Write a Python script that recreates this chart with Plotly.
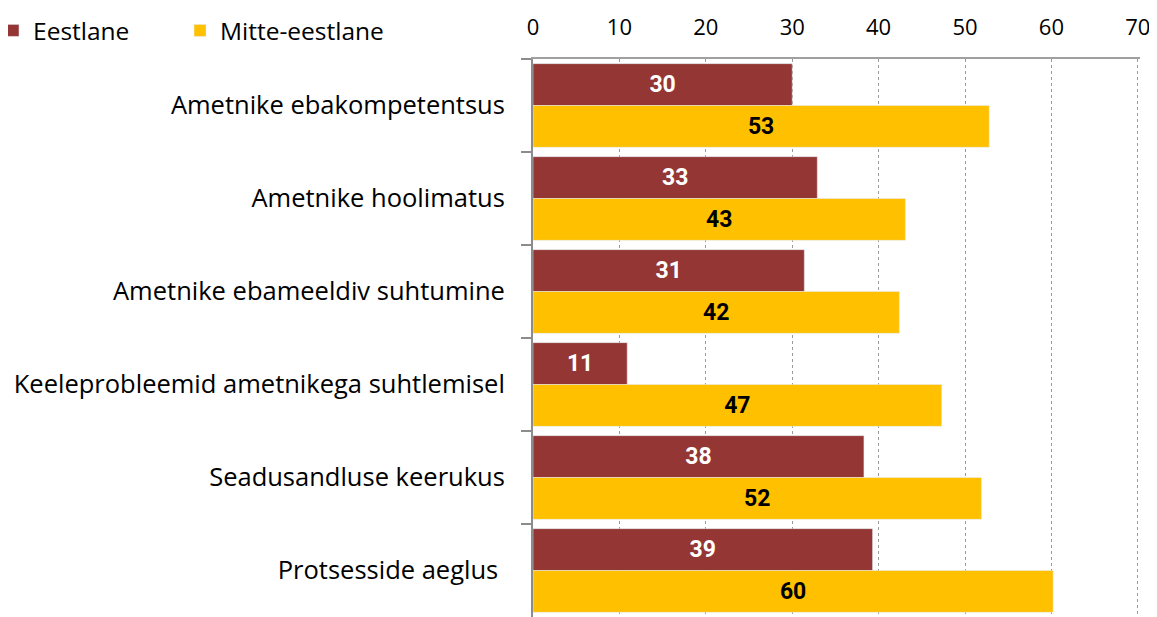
import plotly.graph_objects as go

categories = [
    "Ametnike ebakompetentsus",
    "Ametnike hoolimatus",
    "Ametnike ebameeldiv suhtumine",
    "Keeleprobleemid ametnikega suhtlemisel",
    "Seadusandluse keerukus",
    "Protsesside aeglus\u00a0",
]
eestlane = [30.0, 32.9, 31.4, 10.9, 38.3, 39.3]
mitte_eestlane = [52.8, 43.1, 42.4, 47.3, 51.9, 60.2]
x_ticks = [0, 10, 20, 30, 40, 50, 60, 70]

RED = "#943634"
YELLOW = "#FFC000"
LABEL_FONT = "Liberation Sans Narrow, Arial Narrow, Roboto, sans-serif"
TEXT_FONT = "Open Sans, Noto Sans, sans-serif"

fig = go.Figure()

fig.add_trace(go.Bar(
    y=categories,
    x=eestlane,
    name="Eestlane",
    orientation="h",
    marker=dict(color=RED),
    text=eestlane,
    texttemplate="<b>%{x:.0f}</b>",
    textposition="inside",
    insidetextanchor="middle",
    textfont=dict(color="white", size=23, family=LABEL_FONT),
    legend="legend",
))

fig.add_trace(go.Bar(
    y=categories,
    x=mitte_eestlane,
    name="Mitte-eestlane",
    orientation="h",
    marker=dict(color=YELLOW),
    text=mitte_eestlane,
    texttemplate="<b>%{x:.0f}</b>",
    textposition="inside",
    insidetextanchor="middle",
    textfont=dict(color="black", size=23, family=LABEL_FONT),
    legend="legend2",
))

legend_style = dict(
    orientation="h",
    xanchor="left", xref="paper",
    y=1, yanchor="top", yref="container",
    font=dict(size=24.5),
    itemwidth=30,
    bgcolor="rgba(0,0,0,0)",
)

# page body has an 8px margin, figure is shifted by 8px
fig.update_layout(
    width=1149,
    height=609,
    barmode="group",
    bargap=0.1,
    bargroupgap=0,
    plot_bgcolor="white",
    paper_bgcolor="white",
    font=dict(family=TEXT_FONT, size=24, color="black"),
    margin=dict(l=525, r=17, t=51, b=0, autoexpand=False),
    legend=dict(x=-0.8896, **legend_style),
    legend2=dict(x=-0.5815, **legend_style),
    showlegend=True,
)

fig.update_xaxes(
    side="top",
    range=[0, 70.25],
    tickvals=x_ticks,
    automargin=False,
    showgrid=True,
    gridcolor="#9a9a9a",
    griddash="dot",
    gridwidth=1,
    showline=True,
    linecolor="#a0a0a0",
    linewidth=2,
    zeroline=False,
    ticks="",
    ticklabelstandoff=13,
    tickfont=dict(size=22),
)

fig.update_yaxes(
    autorange="reversed",
    automargin=False,
    showline=True,
    linecolor="#8c8c8c",
    linewidth=2,
    ticks="outside",
    tickson="boundaries",
    ticklen=10,
    tickcolor="#8c8c8c",
    tickwidth=2,
    showgrid=False,
    ticklabelstandoff=21,
    tickfont=dict(size=25.5),
)

fig.write_html("out.html")
